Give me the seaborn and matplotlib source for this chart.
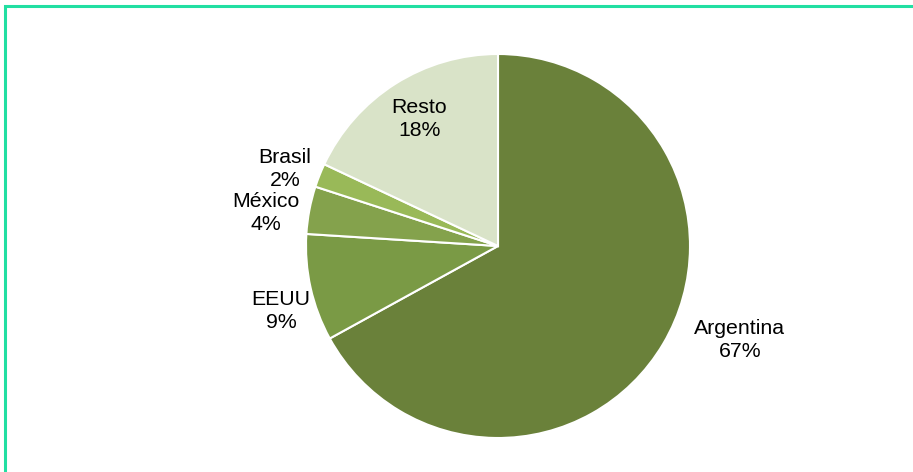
import matplotlib
matplotlib.use("Agg")
import matplotlib.pyplot as plt
import matplotlib.patches as mpatches
import seaborn as sns

sns.set_theme(style="white")
plt.rcParams['font.family'] = ['Liberation Sans', 'DejaVu Sans']

countries = ["Argentina", "EEUU", "México", "Brasil", "Resto"]
shares = [67, 9, 4, 2, 18]
colors = ["#6a813a", "#7a9a45", "#84a24c", "#99b958", "#d9e3c8"]

W, H = 913, 472
fig = plt.figure(figsize=(W / 100, H / 100), dpi=100)
fig.patch.set_facecolor("white")

# pie centre ~ (498, 246) px, radius ~ 192 px
cx, cy, r = 498, 246, 192
ax = fig.add_axes([(cx - r) / W, (H - cy - r) / H, 2 * r / W, 2 * r / H])

wedges, _ = ax.pie(shares, colors=colors, startangle=90, counterclock=False,
                   wedgeprops=dict(edgecolor="white", linewidth=1.5))
ax.set_xlim(-1, 1)
ax.set_ylim(-1, 1)
ax.set_aspect("equal")
ax.axis("off")

# label positions in pie units
label_pos = {
    "Argentina": (1.26, -0.49),
    "EEUU": (-1.13, -0.34),
    "México": (-1.21, 0.17),
    "Brasil": (-1.11, 0.40),
    "Resto": (-0.41, 0.66),
}
for name, val in zip(countries, shares):
    x, y = label_pos[name]
    ax.text(x, y, f"{name}\n{val}%", ha="center", va="center",
            fontsize=15.3, color="black", linespacing=1.25, clip_on=False)

# frame line (only top and left visible)
frame = mpatches.Rectangle((4.5 / W, -0.1), 1.2, (H - 6) / H + 0.1,
                           transform=fig.transFigure, fill=False,
                           edgecolor="#22dfa2", linewidth=2.2)
fig.patches.append(frame)

fig.savefig("out.png", dpi=100)
